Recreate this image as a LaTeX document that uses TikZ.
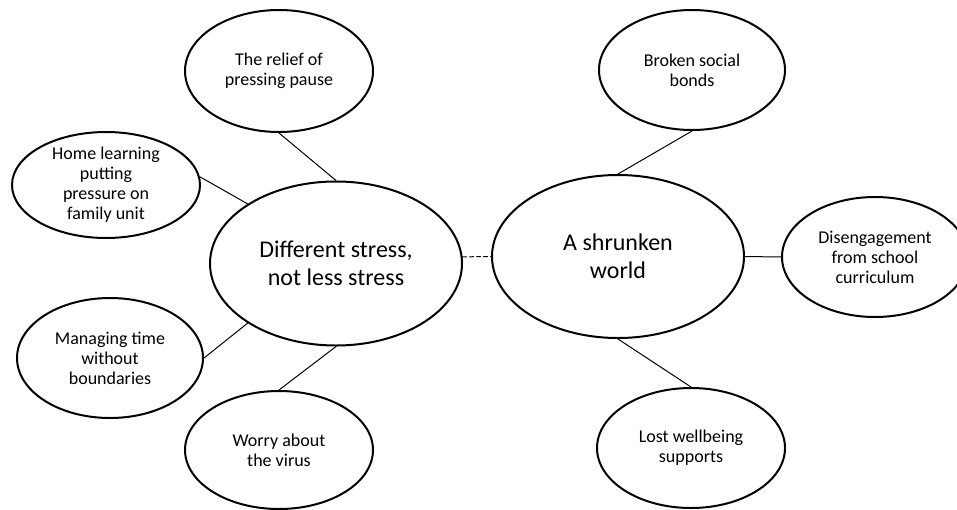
\documentclass[tikz,border=0pt]{standalone}
\usepackage{fontspec}
\setmainfont{Carlito}
\usepackage{pgf,tikz}
\usetikzlibrary{arrows,shapes.geometric}

\begin{document}
\begin{tikzpicture}[line cap=round,line join=round,x=1pt,y=-1pt,
theme/.style={ellipse,draw,line width=2pt,inner sep=0pt,align=center,font=\fontsize{24}{28}\selectfont},
sub/.style={ellipse,draw,line width=2pt,inner sep=0pt,inner ysep=-2pt,align=center,font=\fontsize{18}{20}\selectfont},
link/.style={line width=1pt}]
\clip(0,0) rectangle (957,509);
\node[theme,minimum width=252pt,minimum height=164pt] (stress) at (336,263.5) {Different stress,\\not less stress};
\node[theme,minimum width=252pt,minimum height=163pt] (world) at (618,256.5) {A shrunken\\world};
\node[sub,minimum width=188pt,minimum height=122pt] (relief) at (279,71) {The relief of\\pressing pause};
\node[sub,minimum width=188pt,minimum height=106pt] (home) at (106,185) {Home learning\\putting\\pressure on\\family unit};
\node[sub,minimum width=186pt,minimum height=120pt] (time) at (110,358) {Managing time\\without\\boundaries};
\node[sub,minimum width=188pt,minimum height=118pt] (virus) at (279,450) {Worry about\\the virus};
\node[sub,minimum width=186pt,minimum height=120pt] (bonds) at (692,70) {Broken social\\bonds};
\node[sub,minimum width=186pt,minimum height=120pt] (school) at (875,257) {Disengagement\\from school\\curriculum};
\node[sub,minimum width=188pt,minimum height=120pt] (supports) at (691,448) {Lost wellbeing\\supports};
\draw[link,dashed,dash pattern=on 4pt off 3pt] (stress.3) -- (world.west);
\draw[link] (relief.south) -- (stress.north);
\draw[link] (home.5) -- (stress.146);
\draw[link] (time.east) -- (stress.214);
\draw[link] (virus.north) -- (stress.south);
\draw[link] (bonds.south) -- (world.north);
\draw[link] (world.east) -- (school.west);
\draw[link] (world.south) -- (supports.north);
\end{tikzpicture}
\end{document}
